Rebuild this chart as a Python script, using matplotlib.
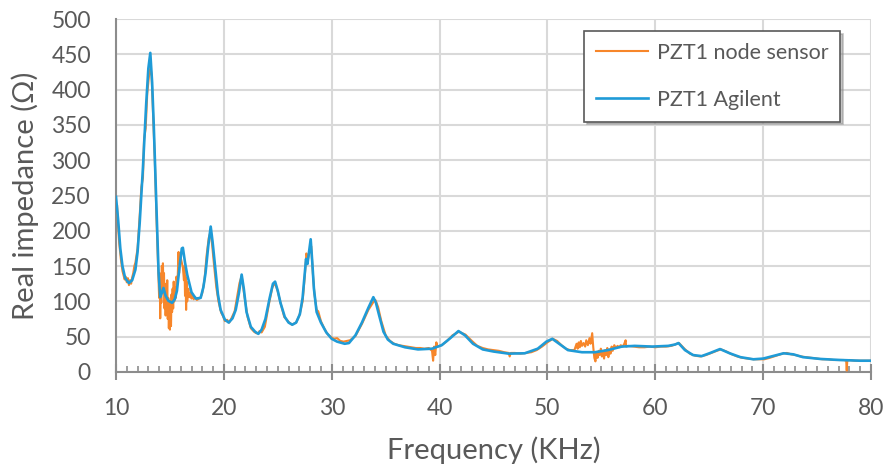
# -------------------------------------------------------------------------------------
# Library
import numpy as np
import matplotlib
matplotlib.use('Agg')
import matplotlib.pyplot as plt
from matplotlib.ticker import MultipleLocator
# -------------------------------------------------------------------------------------


# -------------------------------------------------------------------------------------
# Data: real impedance (ohm) versus frequency (kHz)
agilent_freq = [10.0, 10.2, 10.4, 10.6, 10.85, 11.2, 11.5, 11.8, 12.0, 12.2, 12.5, 12.8,
                13.0, 13.18, 13.35, 13.5, 13.77, 13.95, 14.1, 14.25, 14.4, 14.6, 14.85,
                15.2, 15.45, 15.65, 15.9, 16.1, 16.2, 16.4, 16.6, 17.0, 17.4, 17.85, 18.1,
                18.3, 18.55, 18.78, 18.95, 19.2, 19.45, 19.7, 20.1, 20.45, 20.8, 21.1,
                21.4, 21.65, 21.85, 22.1, 22.5, 22.9, 23.2, 23.5, 23.85, 24.25, 24.55,
                24.75, 25.0, 25.25, 25.65, 26.0, 26.35, 26.7, 27.05, 27.3, 27.5, 27.62,
                27.75, 27.9, 28.05, 28.2, 28.35, 28.6, 29.0, 29.5, 30.0, 30.5, 31.2, 31.6,
                32.2, 32.8, 33.4, 33.86, 34.1, 34.4, 34.8, 35.2, 35.7, 36.8, 38.0, 39.3,
                40.2, 41.0, 41.75, 42.35, 43.1, 44.0, 45.0, 46.4, 47.9, 49.1, 49.9, 50.45,
                51.0, 51.9, 53.2, 54.4, 55.6, 56.9, 58.1, 59.7, 61.2, 61.85, 62.15, 62.75,
                63.5, 64.3, 65.1, 66.0, 66.9, 67.9, 69.1, 70.0, 70.9, 71.9, 72.8, 73.7,
                75.3, 77.1, 79.0, 80.0]
agilent_z = [248, 215, 175, 150, 133, 126, 130, 145, 170, 212, 290, 380,
             430, 452, 410, 350, 222, 140, 106, 112, 119, 108, 101,
             98, 103, 115, 150, 175, 176, 155, 138, 113, 104, 105, 120,
             140, 178, 206, 185, 148, 110, 88, 74, 70, 76, 88,
             112, 138, 118, 85, 64, 57, 54, 60, 75, 105, 125,
             128, 115, 98, 78, 70, 67, 70, 82, 105, 140, 160,
             153, 170, 188, 155, 118, 85, 70, 56, 47, 43, 40, 41,
             52, 70, 91, 106, 98, 80, 57, 46, 40, 35, 32, 33,
             38, 48, 58, 52, 40, 32, 29, 26, 26.5, 33, 43, 47,
             41, 31, 28, 28, 31, 36, 37, 36, 37, 39, 41, 31,
             24, 22.5, 27, 32.5, 26.5, 21, 18, 19, 22.5, 26.5, 25, 21,
             18.5, 17, 16, 16]

node_freq = [10.0, 10.05, 10.1, 10.2, 10.3, 10.45, 10.6, 10.8, 10.9, 11.0, 11.1, 11.2,
             11.3, 11.4, 11.5, 11.6, 11.7, 11.8, 11.9, 12.0, 12.1, 12.2, 12.35, 12.5,
             12.6, 12.75, 12.9, 13.05, 13.2, 13.3, 13.45, 13.6, 13.75, 13.9,
             14.0, 14.05, 14.1, 14.15, 14.2, 14.25, 14.3, 14.35, 14.4, 14.45, 14.5,
             14.55, 14.6, 14.65, 14.7, 14.75, 14.8, 14.85, 14.9, 14.95, 15.0, 15.05,
             15.1, 15.15, 15.2, 15.25, 15.3, 15.35, 15.4, 15.5, 15.55, 15.6, 15.7,
             15.8, 15.85, 15.9, 16.0, 16.1, 16.2, 16.3, 16.35, 16.4, 16.45, 16.5,
             16.55, 16.6, 16.7, 16.8, 16.9, 17.0, 17.1, 17.2, 17.35, 17.5, 17.7,
             17.85, 18.0, 18.2, 18.4, 18.6, 18.75, 18.9, 19.1, 19.3, 19.5, 19.75,
             19.9, 20.1, 20.3, 20.5, 20.7, 21.0, 21.2, 21.45, 21.65, 21.9, 22.2, 22.5,
             22.8, 23.0, 23.2, 23.3, 23.5, 23.8, 24.2, 24.5, 24.75, 25.0, 25.3, 25.6,
             26.0, 26.3, 26.7, 27.0, 27.3, 27.5, 27.65, 27.8, 27.95, 28.1, 28.25, 28.4,
             28.6, 28.75, 29.0, 29.3, 29.6, 29.9, 30.2, 30.5, 30.8, 31.1, 31.4, 31.7,
             32.2, 32.8, 33.4, 33.9, 34.05, 34.3, 34.6, 35.0, 35.4, 35.8, 36.2, 36.6,
             37.0, 37.4, 37.8, 38.2, 38.6, 39.0, 39.3, 39.4, 39.5, 39.6, 39.7, 39.8,
             40.2, 40.7, 41.2, 41.8, 42.4, 43.0, 43.5, 44.0, 44.5, 45.0, 45.5, 46.0,
             46.4, 46.5, 46.6, 47.0, 47.5, 48.0, 48.5, 49.0, 49.5, 50.0, 50.5, 50.9,
             51.3, 51.7, 52.1, 52.5, 52.7, 52.8, 52.9, 53.0, 53.1, 53.2, 53.35, 53.5,
             53.6, 53.75, 53.9, 54.0, 54.15, 54.25, 54.35, 54.45, 54.55, 54.65, 54.75,
             54.85, 54.95, 55.05, 55.15, 55.25, 55.35, 55.45, 55.55, 55.65, 55.75,
             55.85, 55.95, 56.05, 56.2, 56.35, 56.5, 56.65, 56.8, 56.95, 57.1, 57.25,
             57.3, 57.5, 58.0, 58.5, 59.0, 59.5, 60.0, 60.5, 61.0, 61.5, 62.0, 62.2,
             62.7, 63.2, 63.7, 64.2, 64.7, 65.2, 65.7, 66.1, 66.6, 67.1, 67.6, 68.1,
             68.6, 69.1, 69.6, 70.1, 70.6, 71.0, 71.4, 71.8, 72.2, 72.6, 73.0, 73.5,
             74.0, 74.5, 75.0, 75.5, 76.0, 76.5, 77.0, 77.5, 77.7, 77.75, 77.8, 78.0,
             78.5, 79.0, 79.5, 80.0]
node_z = [222, 232, 236, 205, 182, 160, 143, 131, 135, 127, 133, 123,
          130, 125, 134, 140, 150, 155, 165, 175, 198, 222, 262, 275,
          330, 345, 395, 418, 432, 420, 360, 300, 220, 150,
          105, 140, 76, 128, 98, 150, 112, 154, 118, 140, 90,
          125, 80, 118, 92, 130, 75, 105, 62, 95, 60, 100,
          65, 110, 85, 118, 90, 128, 100, 120, 105, 135, 125,
          170, 140, 160, 162, 155, 148, 130, 150, 108, 135, 88,
          128, 100, 118, 106, 112, 104, 110, 103, 106, 102, 104,
          106, 112, 130, 165, 190, 198, 182, 150, 120, 100, 84,
          80, 72, 74, 70, 76, 86, 104, 126, 136, 108, 78, 62,
          57, 55, 55, 58, 56, 64, 98, 120, 126, 114, 95, 78,
          71, 67, 70, 80, 100, 135, 168, 160, 172, 178, 140, 110,
          88, 86, 72, 62, 54, 50, 47, 48, 44, 43, 44, 45,
          51, 68, 88, 100, 102, 92, 72, 52, 44, 40, 38, 37,
          36, 35, 34, 34, 33, 34, 30, 16, 36, 24, 42, 36,
          38, 44, 52, 57, 53, 44, 37, 34, 32, 31, 30, 28,
          27, 22, 27, 27, 26, 27, 28, 31, 36, 42, 47, 44,
          38, 33, 31, 31, 40, 33, 42, 35, 44, 37, 41, 36,
          45, 38, 48, 40, 55, 35, 20, 15, 28, 20, 30,
          24, 33, 22, 30, 19, 31, 24, 34, 21, 32,
          26, 36, 30, 38, 34, 37, 35, 38, 36, 39, 45,
          36, 37, 36, 35, 35, 36, 35, 36, 36, 37, 40, 41,
          33, 26, 23, 22, 24, 27, 30, 32, 29, 25, 22, 20,
          19, 18, 18, 18, 20, 22, 24, 26, 27, 25, 24, 22,
          21, 20, 19, 18, 18, 17, 17, 17, 16, 2, 16, 17,
          16, 16, 16, 16]
# -------------------------------------------------------------------------------------


# -------------------------------------------------------------------------------------
# Figure setup
plt.rcParams['font.family'] = ['Lato', 'DejaVu Sans']
text_color = '#595959'
axis_color = '#8C8C8C'
grid_color = '#D9D9D9'

fig = plt.figure(figsize=(8.85, 4.68), dpi=100)
ax = fig.add_axes([116 / 885, 1 - 372 / 468, 755 / 885, 353 / 468])

ax.plot(node_freq, node_z, color='#F7862A', lw=1.5, label='PZT1 node sensor', zorder=3)
ax.plot(agilent_freq, agilent_z, color='#1F9BD7', lw=1.9, label='PZT1 Agilent', zorder=4)

ax.set_xlim(10, 80)
ax.set_ylim(0, 500)
ax.xaxis.set_major_locator(MultipleLocator(10))
ax.xaxis.set_minor_locator(MultipleLocator(1))
ax.yaxis.set_major_locator(MultipleLocator(50))

ax.grid(True, which='major', color=grid_color, lw=1.5, zorder=0)
ax.set_axisbelow(True)

for side in ['top', 'right']:
    ax.spines[side].set_visible(False)
for side in ['left', 'bottom']:
    ax.spines[side].set_color(axis_color)
    ax.spines[side].set_linewidth(1.5)

ax.tick_params(axis='x', which='major', direction='inout', length=12, width=1.5,
               color=axis_color, labelsize=16.5, labelcolor=text_color, pad=13)
ax.tick_params(axis='x', which='minor', direction='in', length=4.5, width=1.2,
               color=axis_color)
ax.tick_params(axis='y', which='major', length=0, labelsize=16.5,
               labelcolor=text_color, pad=18)

ax.set_xlabel('Frequency (KHz)', fontsize=21, color=text_color, labelpad=12)
ax.set_ylabel('Real impedance (\u03a9)', fontsize=21, color=text_color, labelpad=9)

# Legend box with a soft drop shadow
leg = ax.legend(loc='upper right', bbox_to_anchor=(0.959, 0.966), borderaxespad=0,
                fontsize=15.5, frameon=True, fancybox=False, handlelength=2.4,
                handletextpad=0.4, labelspacing=1.25, borderpad=0.55,
                shadow={'color': '0.55', 'alpha': 0.5, 'ox': 2, 'oy': -2})
leg.get_frame().set_edgecolor('#595959')
leg.get_frame().set_linewidth(1.2)
for txt in leg.get_texts():
    txt.set_color(text_color)

fig.savefig('out.png', dpi=100)
# -------------------------------------------------------------------------------------
